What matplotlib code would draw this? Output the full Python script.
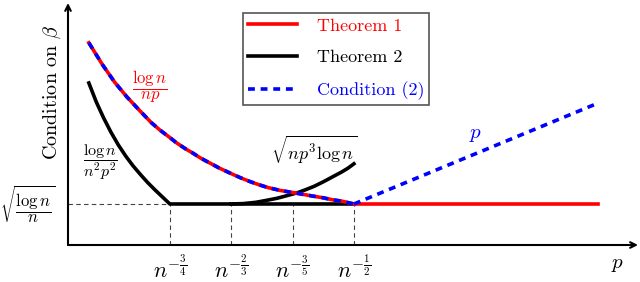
import matplotlib
matplotlib.use("Agg")
import matplotlib.pyplot as plt

plt.rcParams['mathtext.fontset'] = 'cm'
plt.rcParams['font.family'] = ['cmr10', 'DejaVu Serif']
plt.rcParams['axes.unicode_minus'] = False

# x: schematic positions of p (ticks at 0..3), y: condition on beta (floor = 1)
tick_pos = [0, 1, 2, 3]
tick_labels = [r'$n^{-\frac{3}{4}}$', r'$n^{-\frac{2}{3}}$',
               r'$n^{-\frac{3}{5}}$', r'$n^{-\frac{1}{2}}$']

# log n / (np) branch (Theorem 1 and Condition (2) overlap)
x_lognp = [-1.32, -1.1, -0.9, -0.7, -0.5, -0.3, -0.16, 0.0, 0.1, 0.25, 0.375, 0.5, 0.65, 0.8,
           1.0, 1.15, 1.3, 1.45, 1.6, 1.8, 2.0, 2.15, 2.3, 2.5, 2.66, 2.8, 3.0]
y_lognp = [4.93, 4.40, 3.97, 3.61, 3.29, 2.98, 2.80, 2.62, 2.50, 2.35, 2.24, 2.12, 2.00, 1.88,
           1.74, 1.64, 1.55, 1.47, 1.40, 1.33, 1.28, 1.24, 1.20, 1.15, 1.10, 1.07, 1.00]

# Theorem 1 flat part
x_thm1_flat = [3.0, 6.98]
y_thm1_flat = [1.0, 1.0]

# Theorem 2: log n / (n^2 p^2) then flat
x_thm2 = [-1.32, -1.20, -1.08, -0.96, -0.84, -0.72, -0.60, -0.48, -0.36, -0.24, -0.12, 0, 3.0]
y_thm2 = [3.95, 3.49, 3.10, 2.75, 2.44, 2.17, 1.93, 1.72, 1.52, 1.34, 1.17, 1.0, 1.0]

# Theorem 2: sqrt(np^3 log n) branch
x_thm2_rise = [1.0, 1.2, 1.4, 1.58, 1.75, 1.9, 2.07, 2.2, 2.35, 2.5, 2.65, 2.8, 2.9, 3.0]
y_thm2_rise = [1.0, 1.01, 1.04, 1.09, 1.14, 1.20, 1.27, 1.34, 1.43, 1.54, 1.66, 1.78, 1.87, 1.98]

# Condition (2): p branch
x_cond_p = [3.0, 6.98]
y_cond_p = [1.0, 3.46]

floor = 1.0

fig = plt.figure(figsize=(6.4, 2.82), dpi=100)
ax = fig.add_axes([68 / 640, 1 - 245 / 282, 570 / 640, 242 / 282])
ax.set_xlim(-1.66, 7.63)
ax.set_ylim(0, 5.90)
for s in ax.spines.values():
    s.set_visible(False)
ax.set_xticks([])
ax.set_yticks([])

# axes arrows
ax.annotate('', xy=(1, 0), xytext=(0, 0), xycoords='axes fraction',
            arrowprops=dict(arrowstyle='->', lw=1.5, color='black', shrinkA=0, shrinkB=0))
ax.annotate('', xy=(0, 1), xytext=(0, 0), xycoords='axes fraction',
            arrowprops=dict(arrowstyle='->', lw=1.5, color='black', shrinkA=0, shrinkB=0))

# guide lines
guide = dict(color='#444444', lw=0.8, linestyle=(0, (4, 3)), zorder=1)
ax.plot([-1.66, 3.0], [floor, floor], **guide)
for t in tick_pos:
    ax.plot([t, t], [0, floor], **guide)

lw = 2.6
dash = (0, (1.9, 1.6))
ax.plot(x_lognp, y_lognp, color='red', lw=lw, zorder=3, solid_joinstyle='round')
ax.plot(x_lognp, y_lognp, color='blue', lw=lw, linestyle=dash, zorder=4)
ax.plot(x_thm1_flat, y_thm1_flat, color='red', lw=lw, zorder=3, label='Theorem 1')
ax.plot(x_thm2, y_thm2, color='black', lw=lw, zorder=2, label='Theorem 2',
        solid_joinstyle='round')
ax.plot(x_thm2_rise, y_thm2_rise, color='black', lw=lw, zorder=2, solid_joinstyle='round')
ax.plot(x_cond_p, y_cond_p, color='blue', lw=lw, linestyle=dash, zorder=4, label='Condition (2)')

for t, lab in zip(tick_pos, tick_labels):
    ax.text(t, -0.56, lab, ha='center', va='center', fontsize=16)

ax.text(-0.32, 3.86, r'$\dfrac{\log n}{np}$', color='red', ha='center', va='center', fontsize=12)
ax.text(-1.13, 2.02, r'$\dfrac{\log n}{n^2p^2}$', color='black', ha='center', va='center', fontsize=11.5)
ax.text(2.35, 2.32, r'$\sqrt{np^3\log n}$', color='black', ha='center', va='center', fontsize=13)
ax.text(4.98, 2.68, r'$p$', color='blue', ha='center', va='center', fontsize=15)
ax.text(7.29, -0.49, r'$p$', ha='center', va='center', fontsize=15, clip_on=False)
ax.text(-2.32, floor, r'$\sqrt{\dfrac{\log n}{n}}$', ha='center', va='center', fontsize=12, clip_on=False)
ax.text(-1.92, 3.73, r'Condition on $\beta$', rotation=90, ha='center', va='center', fontsize=14.5, clip_on=False)

handles, labels = ax.get_legend_handles_labels()
leg = fig.legend(handles, labels, loc='upper left', bbox_to_anchor=(243 / 640, 1 - 13 / 282),
                 borderaxespad=0, fancybox=False, edgecolor='#555555', framealpha=1,
                 fontsize=13, handlelength=2.7, handletextpad=1.1, labelspacing=0.88,
                 borderpad=0.28)
leg.get_frame().set_linewidth(1.2)
for txt, col in zip(leg.get_texts(), ['red', 'black', 'blue']):
    txt.set_color(col)

fig.savefig('out.png', dpi=100)
